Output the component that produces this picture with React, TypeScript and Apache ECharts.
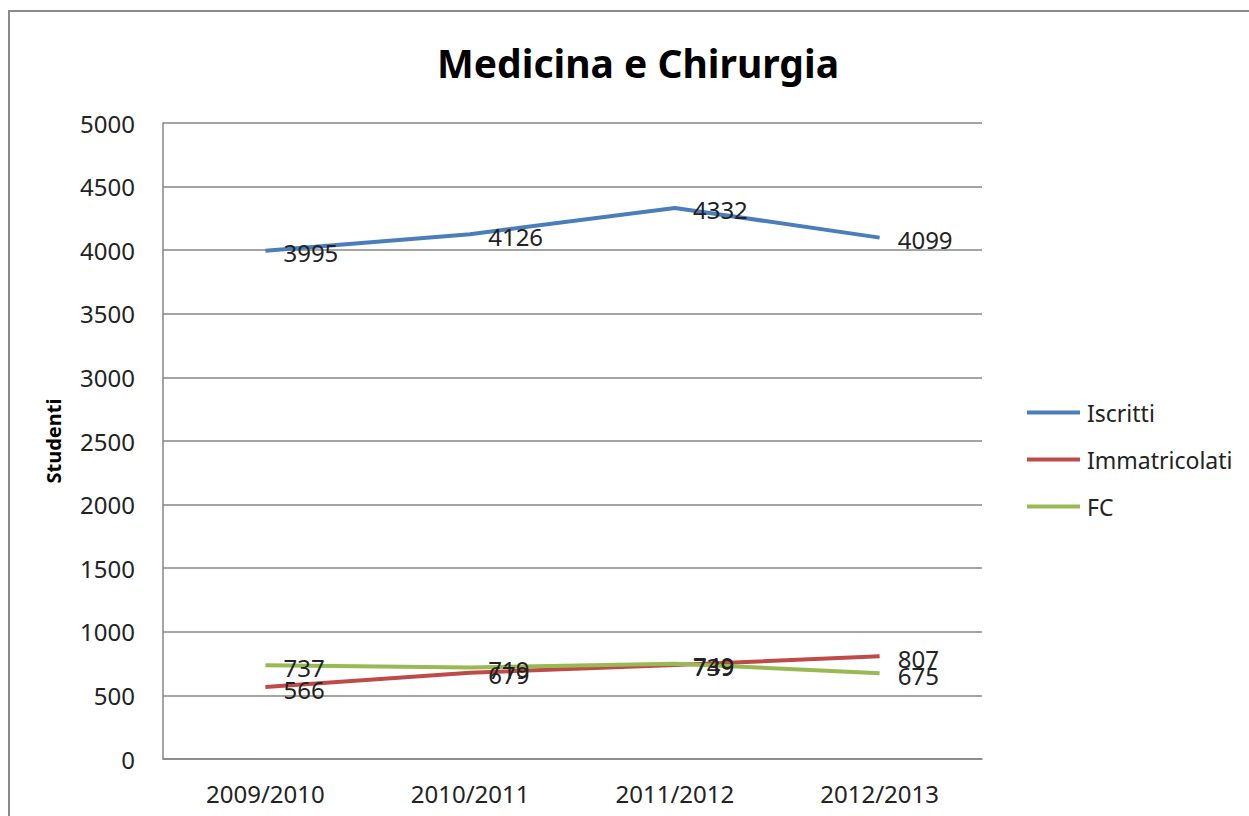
import React, { useEffect, useRef } from "react";
import * as echarts from "echarts";

const categories = ["2009/2010", "2010/2011", "2011/2012", "2012/2013"];
const iscritti = [3995, 4126, 4332, 4099];
const immatricolati = [566, 679, 739, 807];
const fc = [737, 719, 749, 675];
const seriesNames = ["Iscritti", "Immatricolati", "FC"];
const seriesColors = ["#4a7ebb", "#be4b48", "#98b954"];

const FONT = "'Noto Sans', 'Open Sans', sans-serif";

export default function App() {
  const ref = useRef<HTMLDivElement>(null);
  useEffect(() => {
    if (!ref.current) return;
    const chart = echarts.init(ref.current, null, { renderer: "svg" });
    const mk = (name: string, data: number[], color: string) => ({
      name,
      type: "line",
      data,
      symbol: "circle",
      symbolSize: 0.1,
      showSymbol: true,
      lineStyle: { color, width: 4 },
      itemStyle: { color },
      label: {
        show: true,
        position: "right",
        distance: 18,
        color: "#222",
        fontSize: 24,
        fontFamily: FONT,
        offset: [0, 2],
      },
    });
    chart.setOption({
      animation: false,
      backgroundColor: "#fff",
      textStyle: { fontFamily: FONT },
      title: {
        text: "Medicina e Chirurgia",
        left: 633,
        textAlign: "center",
        top: 38,
        textStyle: { fontSize: 39, fontWeight: "bold", color: "#000", fontFamily: FONT },
      },
      graphic: [
        {
          type: "rect",
          shape: { x: 9, y: 11, width: 1300, height: 900 },
          style: { fill: "none", stroke: "#8a8a8a", lineWidth: 2 },
          silent: true,
        },
      ],
      legend: {
        orient: "vertical",
        left: 1022,
        top: 396,
        itemWidth: 53,
        itemHeight: 4,
        itemGap: 24,
        icon: "rect",
        data: seriesNames,
        textStyle: { fontSize: 23, color: "#222", fontFamily: FONT, padding: [0, 0, 0, 2] },
      },
      grid: { left: 163, right: 267, top: 123, bottom: 57 },
      xAxis: {
        type: "category",
        data: categories,
        boundaryGap: true,
        axisLine: { show: true, lineStyle: { color: "#868686", width: 1.5 } },
        axisTick: { show: false },
        axisLabel: { fontSize: 24, color: "#222", margin: 22, fontFamily: FONT },
      },
      yAxis: {
        type: "value",
        min: 0,
        max: 5000,
        interval: 500,
        name: "Studenti",
        nameLocation: "middle",
        nameGap: 100,
        nameTextStyle: { fontSize: 20, fontWeight: "bold", color: "#000", fontFamily: FONT },
        axisLine: { show: true, lineStyle: { color: "#868686", width: 1.5 } },
        axisTick: { show: false },
        splitLine: { lineStyle: { color: "#868686", width: 1.5 } },
        axisLabel: {
          fontSize: 24,
          color: "#222",
          margin: 28,
          fontFamily: FONT,
          formatter: (v: number) => String(v),
        },
      },
      series: [
        mk(seriesNames[0], iscritti, seriesColors[0]),
        mk(seriesNames[1], immatricolati, seriesColors[1]),
        mk(seriesNames[2], fc, seriesColors[2]),
      ],
    });
    return () => chart.dispose();
  }, []);
  return <div ref={ref} style={{ width: 1249, height: 816, position: "absolute", left: 0, top: 0 }} />;
}
